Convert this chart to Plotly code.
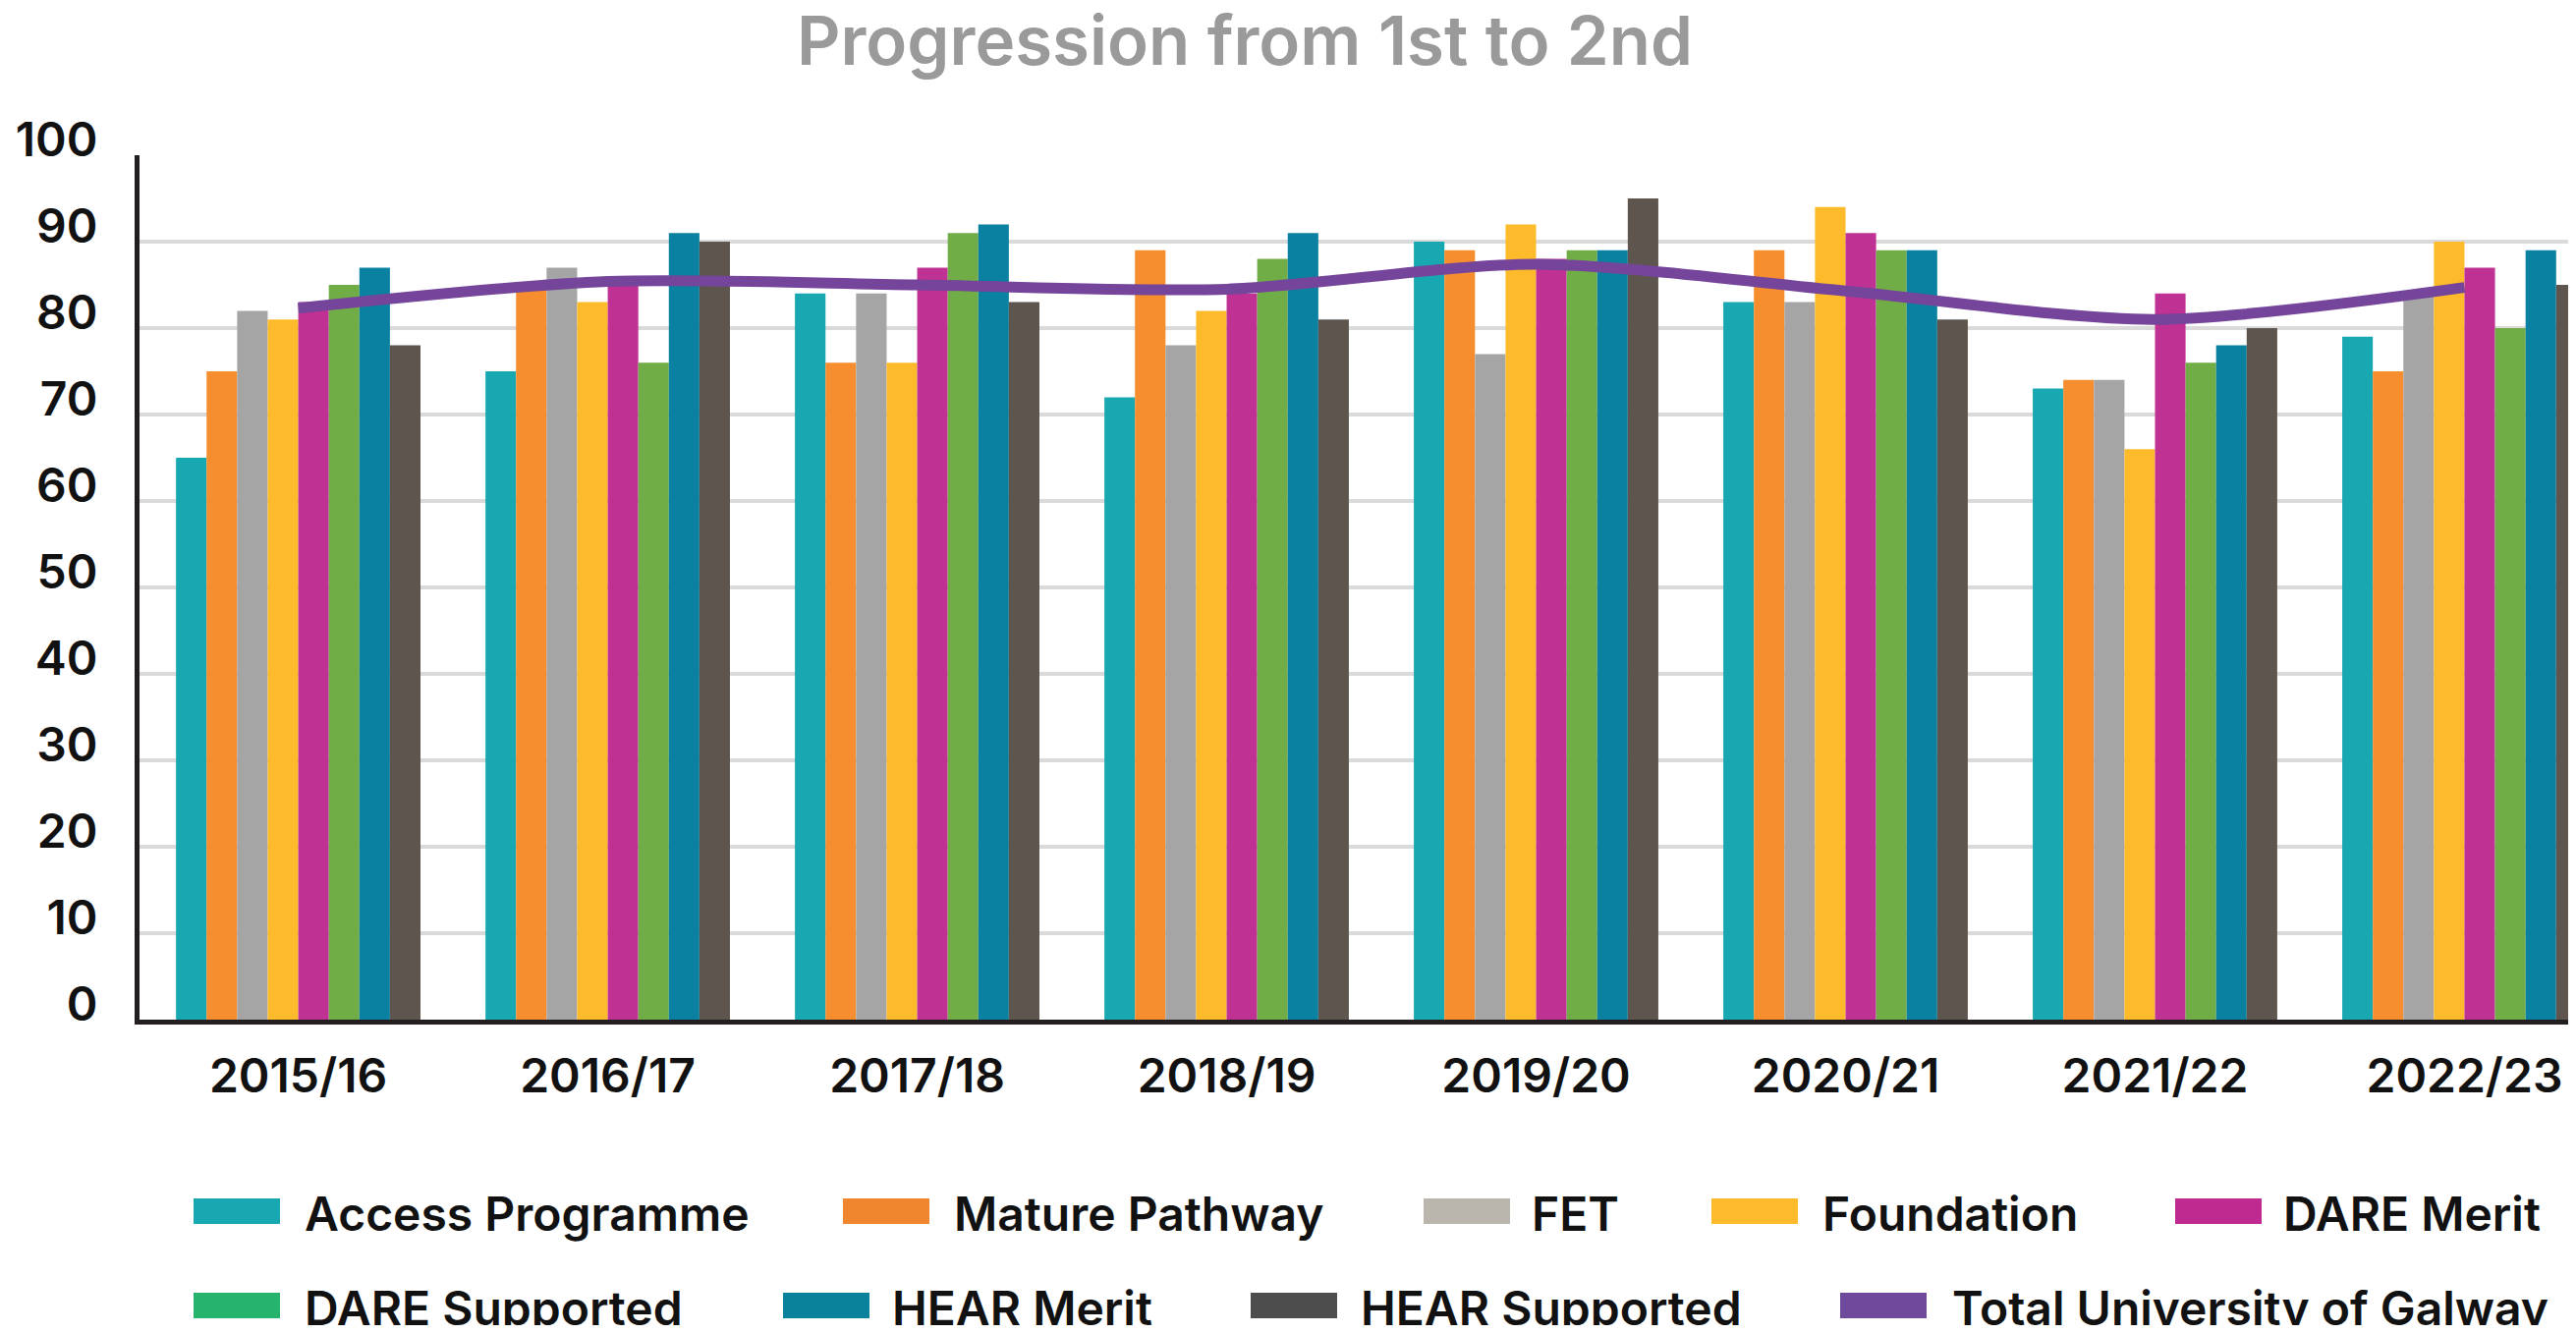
import plotly.graph_objects as go

# Data
YEARS = ["2015/16", "2016/17", "2017/18", "2018/19", "2019/20", "2020/21", "2021/22", "2022/23"]

ACCESS = [65, 75, 84, 72, 90, 83, 73, 79]
MATURE = [75, 85, 76, 89, 89, 89, 74, 75]
FET = [82, 87, 84, 78, 77, 83, 74, 84]
FOUNDATION = [81, 83, 76, 82, 92, 94, 66, 90]
DARE_MERIT = [83, 85, 87, 84, 88, 91, 84, 87]
DARE_SUPPORTED = [85, 76, 91, 88, 89, 89, 76, 80]
HEAR_MERIT = [87, 91, 92, 91, 89, 89, 78, 89]
HEAR_SUPPORTED = [78, 90, 83, 81, 95, 81, 80, 85]
TOTAL = [82.3, 85.4, 85.0, 84.5, 87.4, 84.3, 81.0, 84.7]

BAR_NAMES = ["Access Programme", "Mature Pathway", "FET", "Foundation", "DARE Merit",
             "DARE Supported", "HEAR Merit", "HEAR Supported"]
BAR_VALUES = [ACCESS, MATURE, FET, FOUNDATION, DARE_MERIT, DARE_SUPPORTED, HEAR_MERIT, HEAR_SUPPORTED]
BAR_COLORS = ["#17A8B1", "#F68D2E", "#A5A5A5", "#FDBB2C", "#BF3192", "#70AD47", "#0A81A0", "#5E564E"]

LINE_NAME = "Total University of Galway"
LINE_COLOR = "#74459B"

# legend uses slightly different swatch colours than the bars
LEGEND_NAMES = BAR_NAMES + [LINE_NAME]
LEGEND_COLORS = ["#17A8B1", "#EF852D", "#BAB6AD", "#FDBB2C", "#BF2A90",
                 "#25B36E", "#0A829C", "#4D4D4D", "#6F4A9C"]

# Geometry, in page pixels (the html body adds an 8px margin)
W, H = 2622, 1357
OFF = 8
FW, FH = W - 2 * OFF, H - 2 * OFF
L, T, B = 142 - OFF, 158 - OFF, 1038 - OFF
FONT = "Inter"
FS = 48

fig = go.Figure()
for name, vals, col in zip(BAR_NAMES, BAR_VALUES, BAR_COLORS):
    fig.add_trace(go.Bar(x=YEARS, y=vals, name=name, marker_color=col,
                         marker_line_width=0, showlegend=False))

fig.add_trace(go.Scatter(x=YEARS, y=TOTAL, name=LINE_NAME, mode="lines",
                         line=dict(color=LINE_COLOR, width=11, shape="spline", smoothing=0.8),
                         showlegend=False))


def px_x(p):
    return (p - OFF - L) / (FW - L)


def px_y(p):
    return (B - (p - OFF)) / (B - T)


# hand-placed legend (two rows, wide swatches), page pixels
legend_pos = [
    (197, 311, 1233), (858, 972, 1233), (1449, 1560, 1233), (1742, 1856, 1233), (2214, 2325, 1233),
    (197, 311, 1329), (797, 909, 1329), (1273, 1386, 1329), (1873, 1988, 1329),
]
shapes = []
annotations = []
for (sx, tx, cy), name, col in zip(legend_pos, LEGEND_NAMES, LEGEND_COLORS):
    shapes.append(dict(type="rect", xref="paper", yref="paper",
                       x0=px_x(sx), x1=px_x(sx + 88), y0=px_y(cy - 13), y1=px_y(cy + 13),
                       fillcolor=col, line_width=0, layer="above"))
    annotations.append(dict(text=name, xref="paper", yref="paper", x=px_x(tx - 3), y=px_y(cy + 2),
                            xanchor="left", yanchor="middle", showarrow=False,
                            font=dict(family=FONT, size=FS, color="#111111", weight=600)))

fig.update_layout(
    width=FW, height=FH,
    margin=dict(l=L, r=0, t=T, b=FH - B, pad=0),
    paper_bgcolor="white", plot_bgcolor="white",
    barmode="group", bargap=0.21, bargroupgap=0,
    title=dict(text="Progression from 1st to 2nd", x=(1267 - OFF) / FW, xanchor="center",
               y=1 - (42 - OFF) / FH, yanchor="middle",
               font=dict(family=FONT, size=69, color="#9A9A9A", weight=600)),
    showlegend=False,
    shapes=shapes,
    annotations=annotations,
)
fig.update_xaxes(range=[-0.513, 7.335], showline=True, linecolor="#231F20", linewidth=5,
                 showgrid=False, ticks="", ticklabelstandoff=11,
                 tickfont=dict(family=FONT, size=FS, color="#111111", weight=600))
fig.update_yaxes(range=[0, 100], dtick=10, showline=True, linecolor="#231F20", linewidth=5,
                 showgrid=True, gridcolor="#DADADA", gridwidth=4, zeroline=False,
                 ticks="", ticklabelstandoff=28, ticklabelshift=-16,
                 tickfont=dict(family=FONT, size=FS, color="#111111", weight=600))

fig.write_html("out.html")
